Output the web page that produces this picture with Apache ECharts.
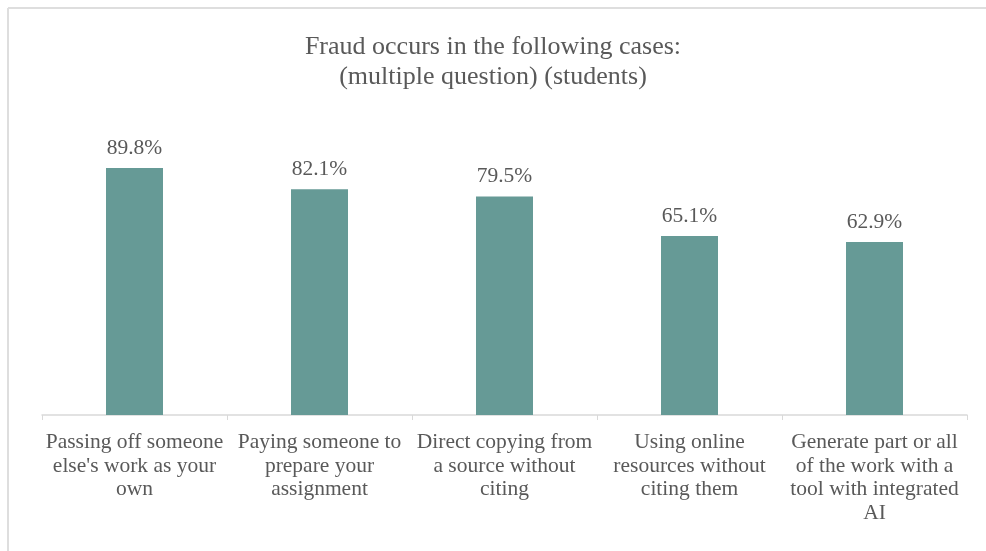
<!DOCTYPE html>
<html>
<head>
<meta charset="utf-8">
<script src="https://cdn.jsdelivr.net/npm/echarts@6/dist/echarts.min.js"></script>
<style>
  html, body { margin: 0; padding: 0; background: #ffffff; }
  #chart { width: 986px; height: 551px; }
</style>
</head>
<body>
<div id="chart"></div>
<script>
const titleLines = ["Fraud occurs in the following cases:", "(multiple question) (students)"];
const categories = [
  "Passing off someone\nelse's work as your\nown",
  "Paying someone to\nprepare your\nassignment",
  "Direct copying from\na source without\nciting",
  "Using online\nresources without\nciting them",
  "Generate part or all\nof the work with a\ntool with integrated\nAI"
];
const values = [89.8, 82.1, 79.5, 65.1, 62.9];

const serif = "'Liberation Serif', 'Times New Roman', serif";
const textColor = '#595959';

const chart = echarts.init(document.getElementById('chart'));
chart.setOption({
  animation: false,
  backgroundColor: '#ffffff',
  title: {
    text: titleLines.join('\n'),
    left: 'center',
    top: 27,
    textStyle: {
      fontFamily: serif,
      fontSize: 26,
      fontWeight: 'normal',
      color: textColor,
      lineHeight: 30
    }
  },
  graphic: [
    { type: 'line', shape: { x1: 8, y1: 8, x2: 986, y2: 8 }, style: { stroke: '#dedede', lineWidth: 2 }, silent: true },
    { type: 'line', shape: { x1: 8, y1: 8, x2: 8, y2: 551 }, style: { stroke: '#dedede', lineWidth: 2 }, silent: true }
  ],
  grid: { left: 42, right: 19, top: 140, bottom: 136, containLabel: false },
  xAxis: {
    type: 'category',
    data: categories,
    boundaryGap: true,
    axisLine: { show: true, lineStyle: { color: '#d9d9d9', width: 1.5 } },
    axisTick: { show: true, length: 5, alignWithLabel: false, lineStyle: { color: '#d9d9d9' } },
    axisLabel: {
      interval: 0,
      margin: 16,
      fontFamily: serif,
      fontSize: 21.5,
      lineHeight: 23.5,
      color: textColor,
      align: 'center'
    }
  },
  yAxis: {
    type: 'value',
    min: 0,
    max: 100,
    show: false,
    splitLine: { show: false }
  },
  series: [{
    type: 'bar',
    data: values,
    barWidth: 57,
    itemStyle: { color: '#669a96' },
    label: {
      show: true,
      position: 'top',
      distance: 9,
      formatter: p => p.value.toFixed(1) + '%',
      fontFamily: serif,
      fontSize: 21.5,
      color: textColor
    }
  }]
});
</script>
</body>
</html>
